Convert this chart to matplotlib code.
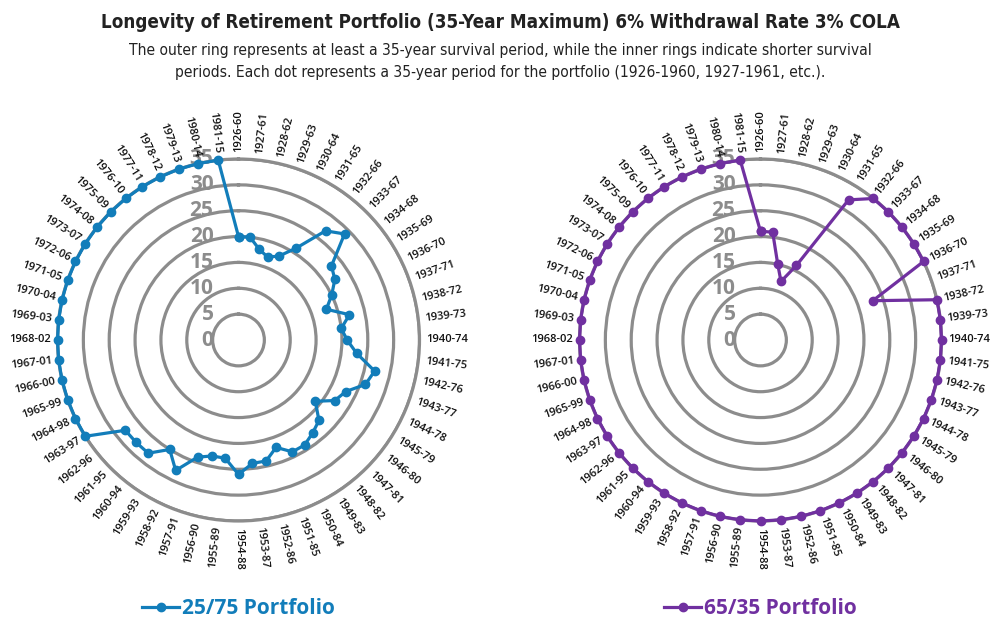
import numpy as np
import matplotlib
matplotlib.use("Agg")
import matplotlib.pyplot as plt
from matplotlib.lines import Line2D

# 35-year periods, start year 1926 .. 1981
periods = ["%d-%02d" % (y, (y + 34) % 100) for y in range(1926, 1982)]

# years the portfolio survived (capped at 35)
p25_75 = [20, 20, 18, 17, 18, 21, 27, 29, 23, 22, 20, 18, 22, 20, 21, 23, 27, 26,
          23, 22, 19, 22, 23, 24, 24, 22, 24, 24, 26, 23, 23, 24, 28, 25, 28, 28,
          28, 35, 35, 35, 35, 35, 35, 35, 35, 35, 35, 35, 35, 35, 35, 35, 35, 35,
          35, 35]
p65_35 = [21, 21, 15, 12, 16, 32, 35, 35, 35, 35, 35, 23, 35, 35, 35, 35, 35, 35,
          35, 35, 35, 35, 35, 35, 35, 35, 35, 35, 35, 35, 35, 35, 35, 35, 35, 35,
          35, 35, 35, 35, 35, 35, 35, 35, 35, 35, 35, 35, 35, 35, 35, 35, 35, 35,
          35, 35]
series_names = ["25/75 Portfolio", "65/35 Portfolio"]
series_colors = ["#127DBA", "#7030A0"]
rings = [5, 10, 15, 20, 25, 30, 35]
ring_labels = [0, 5, 10, 15, 20, 25, 30, 35]

W, H = 1000, 637
fig = plt.figure(figsize=(W / 100, H / 100), dpi=100)

fig.text(0.5, 1 - 23 / H, "Longevity of Retirement Portfolio (35-Year Maximum) 6% Withdrawal Rate 3% COLA",
         ha="center", va="center", fontsize=13.5, fontweight="bold", color="#222222",
         family="DejaVu Sans", fontstretch="condensed")
fig.text(0.5, 1 - 50 / H, "The outer ring represents at least a 35-year survival period, while the inner rings indicate shorter survival",
         ha="center", va="center", fontsize=11.2, color="#222222",
         family="DejaVu Sans", fontstretch="condensed")
fig.text(0.5, 1 - 73 / H, "periods. Each dot represents a 35-year period for the portfolio (1926-1960, 1927-1961, etc.).",
         ha="center", va="center", fontsize=11.2, color="#222222",
         family="DejaVu Sans", fontstretch="condensed")

n = len(periods)
theta = np.arange(n) * 2 * np.pi / n
R = 181.0
centers = [(238.5, 340.0), (760.5, 340.0)]

for k, vals in enumerate([p25_75, p65_35]):
    cx, cy = centers[k]
    ax = fig.add_axes([(cx - R) / W, (H - cy - R) / H, 2 * R / W, 2 * R / H], projection="polar")
    ax.set_theta_zero_location("N")
    ax.set_theta_direction(-1)
    ax.set_ylim(0, 35)
    ax.set_yticks(rings)
    ax.set_yticklabels([])
    ax.set_xticks([])
    ax.yaxis.grid(True, color="#8C8C8C", lw=2.3)
    ax.xaxis.grid(False)
    ax.spines["polar"].set_color("#8C8C8C")
    ax.spines["polar"].set_linewidth(2.3)
    ax.set_facecolor("none")

    # radial value labels
    for v in ring_labels:
        ax.annotate(str(v), xy=(0, v), xytext=(-25, 0), textcoords="offset pixels",
                    ha="right", va="center", fontsize=15, fontweight="bold",
                    color="#8C8C8C", family="Open Sans", zorder=3)

    # category labels around the rim
    for t, lab in zip(theta, periods):
        deg = np.degrees(t)
        if deg <= 180:
            rot, ha = 90 - deg, "left"
        else:
            rot, ha = 270 - deg, "right"
        ax.text(t, 36.3, lab, rotation=rot, rotation_mode="anchor", ha=ha, va="center",
                fontsize=8, fontweight="semibold", color="#111111", family="Open Sans")

    tt = np.append(theta, theta[0])
    vv = np.append(vals, vals[0])
    ax.plot(tt, vv, color=series_colors[k], lw=2.3, marker="o", ms=6, zorder=4, clip_on=False)

    h = Line2D([], [], color=series_colors[k], lw=2.3, marker="o", ms=6)
    leg = ax.legend([h], [series_names[k]], loc="center",
                    bbox_to_anchor=(cx / W, 1 - 609 / H), bbox_transform=fig.transFigure,
                    frameon=False, handlelength=1.8, handletextpad=0.15,
                    prop={"family": "Open Sans", "weight": "bold", "size": 15})
    for txt in leg.get_texts():
        txt.set_color(series_colors[k])

fig.savefig("out.png", dpi=100)
